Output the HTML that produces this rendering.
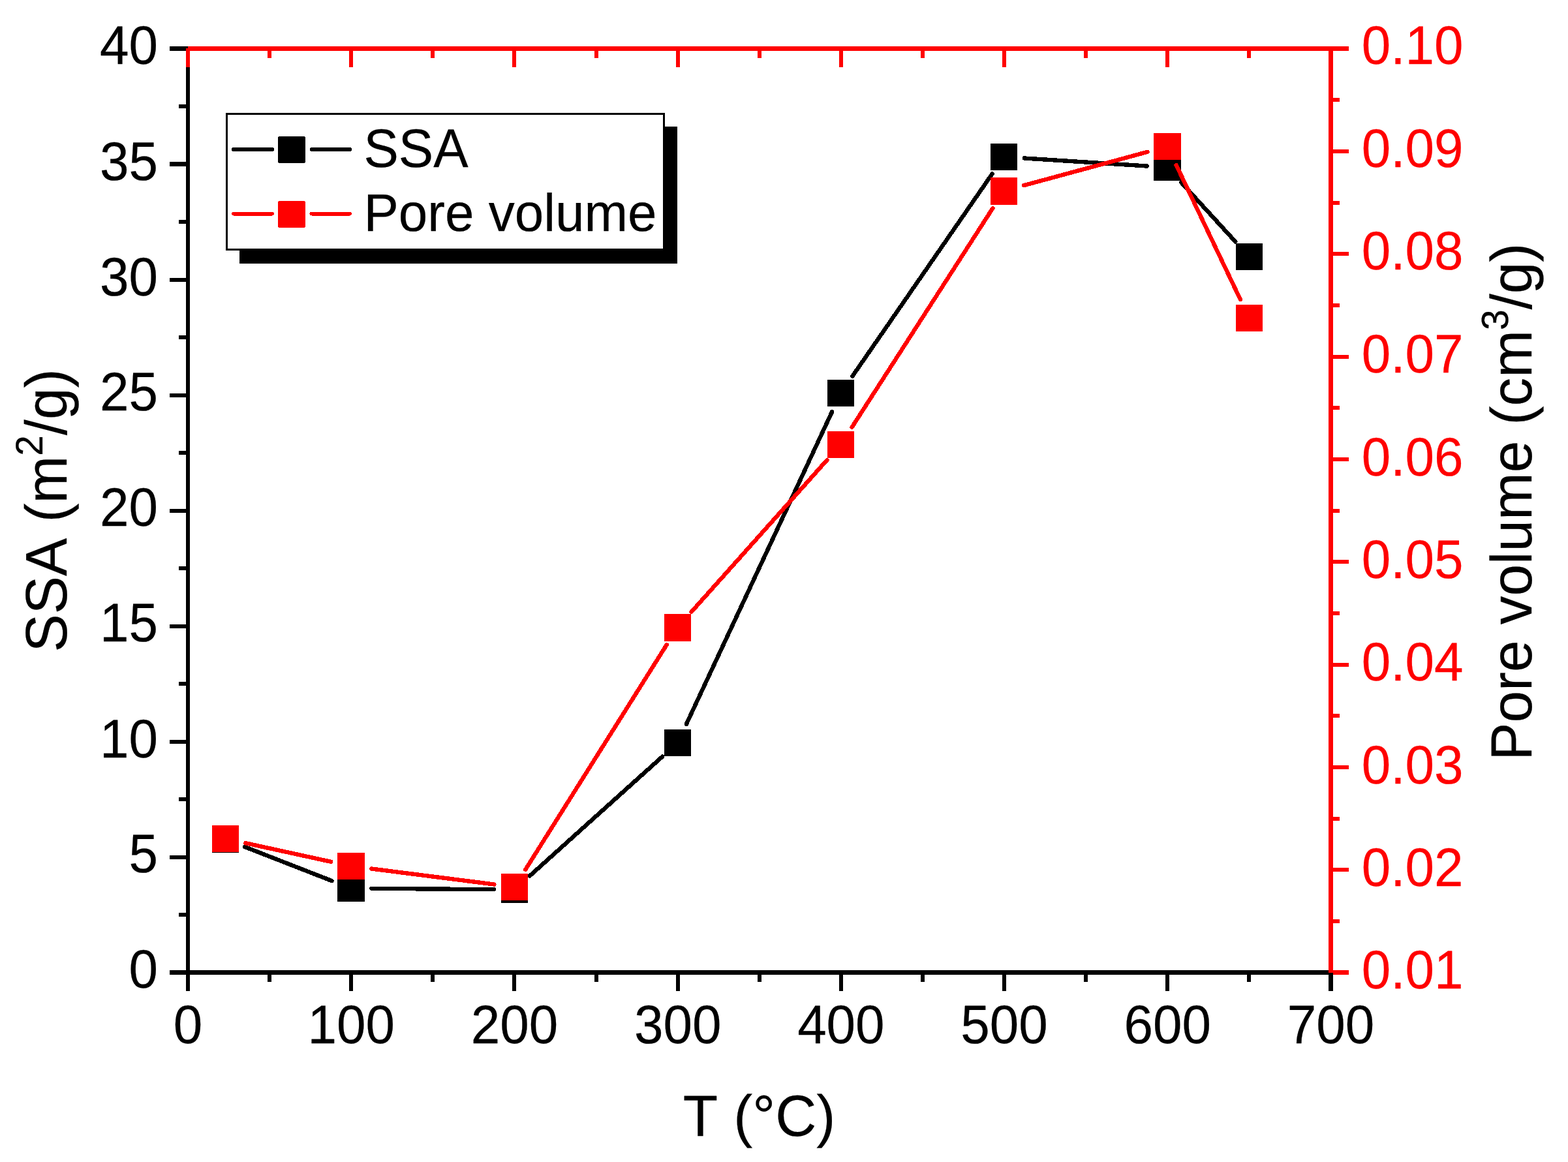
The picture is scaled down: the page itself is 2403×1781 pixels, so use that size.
<!DOCTYPE html>
<html lang="en">
<head>
<meta charset="utf-8">
<title>SSA and pore volume vs temperature</title>
<style>
html,body{margin:0;padding:0;background:#fff;width:2403px;height:1781px;}
svg{display:block;}
text{font-family:"Liberation Sans",sans-serif;font-kerning:none;font-variant-ligatures:none;text-rendering:geometricPrecision;stroke-width:0.25px;stroke-linejoin:round;}
</style>
</head>
<body>
<svg width="2403" height="1781" viewBox="0 0 2403 1781">
<rect x="0" y="0" width="2403" height="1781" fill="#fff"/>
<g shape-rendering="crispEdges">
<rect x="285" y="71" width="6" height="1423" fill="#000000"/>
<rect x="260" y="1487" width="1783" height="7" fill="#000000"/>
<rect x="260" y="1487" width="25" height="7" fill="#000000"/>
<rect x="274" y="1399" width="11" height="6" fill="#000000"/>
<rect x="260" y="1311" width="25" height="6" fill="#000000"/>
<rect x="274" y="1222" width="11" height="6" fill="#000000"/>
<rect x="260" y="1134" width="25" height="6" fill="#000000"/>
<rect x="274" y="1045" width="11" height="6" fill="#000000"/>
<rect x="260" y="957" width="25" height="6" fill="#000000"/>
<rect x="274" y="868" width="11" height="6" fill="#000000"/>
<rect x="260" y="780" width="25" height="6" fill="#000000"/>
<rect x="274" y="691" width="11" height="6" fill="#000000"/>
<rect x="260" y="603" width="25" height="6" fill="#000000"/>
<rect x="274" y="514" width="11" height="6" fill="#000000"/>
<rect x="260" y="426" width="25" height="6" fill="#000000"/>
<rect x="274" y="337" width="11" height="6" fill="#000000"/>
<rect x="260" y="248" width="25" height="7" fill="#000000"/>
<rect x="274" y="160" width="11" height="6" fill="#000000"/>
<rect x="260" y="71" width="25" height="7" fill="#000000"/>
<rect x="285" y="1494" width="6" height="25" fill="#000000"/>
<rect x="410" y="1494" width="6" height="11" fill="#000000"/>
<rect x="535" y="1494" width="6" height="25" fill="#000000"/>
<rect x="660" y="1494" width="6" height="11" fill="#000000"/>
<rect x="785" y="1494" width="6" height="25" fill="#000000"/>
<rect x="911" y="1494" width="6" height="11" fill="#000000"/>
<rect x="1036" y="1494" width="6" height="25" fill="#000000"/>
<rect x="1161" y="1494" width="6" height="11" fill="#000000"/>
<rect x="1286" y="1494" width="6" height="25" fill="#000000"/>
<rect x="1411" y="1494" width="6" height="11" fill="#000000"/>
<rect x="1536" y="1494" width="6" height="25" fill="#000000"/>
<rect x="1661" y="1494" width="6" height="11" fill="#000000"/>
<rect x="1786" y="1494" width="6" height="25" fill="#000000"/>
<rect x="1911" y="1494" width="6" height="11" fill="#000000"/>
<rect x="2036" y="1494" width="7" height="25" fill="#000000"/>
<rect x="288" y="71" width="1779" height="7" fill="#ff0000"/>
<rect x="2036" y="71" width="7" height="1420" fill="#ff0000"/>
<rect x="285" y="74" width="6" height="29" fill="#ff0000"/>
<rect x="410" y="78" width="6" height="11" fill="#ff0000"/>
<rect x="535" y="78" width="6" height="25" fill="#ff0000"/>
<rect x="660" y="78" width="6" height="11" fill="#ff0000"/>
<rect x="785" y="78" width="6" height="25" fill="#ff0000"/>
<rect x="911" y="78" width="6" height="11" fill="#ff0000"/>
<rect x="1036" y="78" width="6" height="25" fill="#ff0000"/>
<rect x="1161" y="78" width="6" height="11" fill="#ff0000"/>
<rect x="1286" y="78" width="6" height="25" fill="#ff0000"/>
<rect x="1411" y="78" width="6" height="11" fill="#ff0000"/>
<rect x="1536" y="78" width="6" height="25" fill="#ff0000"/>
<rect x="1661" y="78" width="6" height="11" fill="#ff0000"/>
<rect x="1786" y="78" width="6" height="25" fill="#ff0000"/>
<rect x="1911" y="78" width="6" height="11" fill="#ff0000"/>
<rect x="2036" y="78" width="7" height="25" fill="#ff0000"/>
<rect x="2043" y="1487" width="24" height="7" fill="#ff0000"/>
<rect x="2043" y="1409" width="10" height="6" fill="#ff0000"/>
<rect x="2043" y="1330" width="24" height="6" fill="#ff0000"/>
<rect x="2043" y="1252" width="10" height="6" fill="#ff0000"/>
<rect x="2043" y="1173" width="24" height="6" fill="#ff0000"/>
<rect x="2043" y="1094" width="10" height="6" fill="#ff0000"/>
<rect x="2043" y="1016" width="24" height="6" fill="#ff0000"/>
<rect x="2043" y="937" width="10" height="6" fill="#ff0000"/>
<rect x="2043" y="858" width="24" height="6" fill="#ff0000"/>
<rect x="2043" y="780" width="10" height="6" fill="#ff0000"/>
<rect x="2043" y="701" width="24" height="6" fill="#ff0000"/>
<rect x="2043" y="622" width="10" height="6" fill="#ff0000"/>
<rect x="2043" y="544" width="24" height="6" fill="#ff0000"/>
<rect x="2043" y="465" width="10" height="6" fill="#ff0000"/>
<rect x="2043" y="386" width="24" height="6" fill="#ff0000"/>
<rect x="2043" y="308" width="10" height="6" fill="#ff0000"/>
<rect x="2043" y="229" width="24" height="6" fill="#ff0000"/>
<rect x="2043" y="150" width="10" height="6" fill="#ff0000"/>
<rect x="2043" y="71" width="24" height="7" fill="#ff0000"/>
</g>
<g class="tk">
<text transform="translate(242 1514) scale(1 1.04)" font-size="80" fill="#000000" stroke="#000000" text-anchor="end">0</text>
<text transform="translate(242 1336.5) scale(1 1.04)" font-size="80" fill="#000000" stroke="#000000" text-anchor="end">5</text>
<text transform="translate(242 1160.8) scale(1 1.04)" font-size="80" fill="#000000" stroke="#000000" text-anchor="end">10</text>
<text transform="translate(242 982.7) scale(1 1.04)" font-size="80" fill="#000000" stroke="#000000" text-anchor="end">15</text>
<text transform="translate(242 806.4) scale(1 1.04)" font-size="80" fill="#000000" stroke="#000000" text-anchor="end">20</text>
<text transform="translate(242 628.7) scale(1 1.04)" font-size="80" fill="#000000" stroke="#000000" text-anchor="end">25</text>
<text transform="translate(242 452.8) scale(1 1.04)" font-size="80" fill="#000000" stroke="#000000" text-anchor="end">30</text>
<text transform="translate(242 275.9) scale(1 1.04)" font-size="80" fill="#000000" stroke="#000000" text-anchor="end">35</text>
<text transform="translate(242 98) scale(1 1.04)" font-size="80" fill="#000000" stroke="#000000" text-anchor="end">40</text>
<text transform="translate(288 1599) scale(1 1.04)" font-size="80" fill="#000000" stroke="#000000" text-anchor="middle">0</text>
<text transform="translate(538.214 1599) scale(1 1.04)" font-size="80" fill="#000000" stroke="#000000" text-anchor="middle">100</text>
<text transform="translate(788.429 1599) scale(1 1.04)" font-size="80" fill="#000000" stroke="#000000" text-anchor="middle">200</text>
<text transform="translate(1038.64 1599) scale(1 1.04)" font-size="80" fill="#000000" stroke="#000000" text-anchor="middle">300</text>
<text transform="translate(1288.86 1599) scale(1 1.04)" font-size="80" fill="#000000" stroke="#000000" text-anchor="middle">400</text>
<text transform="translate(1539.07 1599) scale(1 1.04)" font-size="80" fill="#000000" stroke="#000000" text-anchor="middle">500</text>
<text transform="translate(1789.29 1599) scale(1 1.04)" font-size="80" fill="#000000" stroke="#000000" text-anchor="middle">600</text>
<text transform="translate(2039.5 1599) scale(1 1.04)" font-size="80" fill="#000000" stroke="#000000" text-anchor="middle">700</text>
<text transform="translate(2086.7 1514.9) scale(1 1.04)" font-size="80" fill="#ff0000" stroke="#ff0000" text-anchor="start">0.01</text>
<text transform="translate(2086.7 1357.57) scale(1 1.04)" font-size="80" fill="#ff0000" stroke="#ff0000" text-anchor="start">0.02</text>
<text transform="translate(2086.7 1200.93) scale(1 1.04)" font-size="80" fill="#ff0000" stroke="#ff0000" text-anchor="start">0.03</text>
<text transform="translate(2086.7 1042.9) scale(1 1.04)" font-size="80" fill="#ff0000" stroke="#ff0000" text-anchor="start">0.04</text>
<text transform="translate(2086.7 885.767) scale(1 1.04)" font-size="80" fill="#ff0000" stroke="#ff0000" text-anchor="start">0.05</text>
<text transform="translate(2086.7 729.333) scale(1 1.04)" font-size="80" fill="#ff0000" stroke="#ff0000" text-anchor="start">0.06</text>
<text transform="translate(2086.7 571.25) scale(1 1.04)" font-size="80" fill="#ff0000" stroke="#ff0000" text-anchor="start">0.07</text>
<text transform="translate(2086.7 412.867) scale(1 1.04)" font-size="80" fill="#ff0000" stroke="#ff0000" text-anchor="start">0.08</text>
<text transform="translate(2086.7 255.833) scale(1 1.04)" font-size="80" fill="#ff0000" stroke="#ff0000" text-anchor="start">0.09</text>
<text transform="translate(2086.7 97.8) scale(1 1.04)" font-size="80" fill="#ff0000" stroke="#ff0000" text-anchor="start">0.10</text>
</g>
<g class="tt">
<text transform="translate(102 782.4) rotate(-90) scale(1 1.03)" font-size="87.3" fill="#000000" stroke="#000000" text-anchor="middle">SSA (m<tspan font-size="56.745" dy="-35.793">2</tspan><tspan dy="35.793">/g)</tspan></text>
<text transform="translate(2347 769.2) rotate(-90) scale(1 1.02)" font-size="87.3" fill="#000000" stroke="#000000" text-anchor="middle">Pore volume (cm<tspan font-size="56.745" dy="-35.793">3</tspan><tspan dy="35.793">/g)</tspan></text>
<text transform="translate(1163.5 1741) scale(1 1.02)" font-size="87.3" fill="#000000" stroke="#000000" text-anchor="middle">T (°C)</text>
</g>
<g shape-rendering="crispEdges">
<rect x="367" y="194" width="671" height="210" fill="#000000"/>
<rect x="347.5" y="174.5" width="670" height="208" fill="#fff" stroke="#000" stroke-width="3"/>
</g>
<g stroke="#000000" stroke-width="6" stroke-linecap="round" fill="none" shape-rendering="crispEdges"><path d="M358 229H417M477.5 229H536"/></g>
<rect x="426" y="209" width="42" height="41" fill="#000000" rx="2.5" shape-rendering="crispEdges"/>
<text transform="translate(557.5 255.5) scale(1 1.04)" font-size="80" fill="#000000" stroke="#000000" text-anchor="start">SSA</text>
<g stroke="#ff0000" stroke-width="6" stroke-linecap="round" fill="none" shape-rendering="crispEdges"><path d="M358 327.5H417M477.5 327.5H536"/></g>
<rect x="426" y="308" width="42" height="41" fill="#ff0000" rx="2.5" shape-rendering="crispEdges"/>
<text transform="translate(557.5 354) scale(1 1.015)" font-size="80" fill="#000000" stroke="#000000" text-anchor="start">Pore volume</text>
<path d="M374.9 1297.9L508.6 1350.1M569.5 1361.8L757.0 1363.2M811.9 1342.4L1015.1 1159.6M1051.8 1110.0L1275.2 631.0M1306.4 576.6L1520.6 266.4M1569.9 242.5L1757.6 254.5M1810.3 279.7L1893.2 370.3" stroke="#000000" stroke-width="6.4" stroke-linecap="round" fill="none" shape-rendering="crispEdges"/>
<rect x="325" y="1266" width="41" height="41" fill="#000000" rx="1.5" shape-rendering="crispEdges"/>
<rect x="517" y="1341" width="42" height="41" fill="#000000" rx="1.5" shape-rendering="crispEdges"/>
<rect x="768" y="1343" width="41" height="41" fill="#000000" rx="1.5" shape-rendering="crispEdges"/>
<rect x="1018" y="1118" width="41" height="41" fill="#000000" rx="1.5" shape-rendering="crispEdges"/>
<rect x="1268" y="582" width="41" height="41" fill="#000000" rx="1.5" shape-rendering="crispEdges"/>
<rect x="1518" y="220" width="41" height="41" fill="#000000" rx="1.5" shape-rendering="crispEdges"/>
<rect x="1768" y="236" width="42" height="41" fill="#000000" rx="1.5" shape-rendering="crispEdges"/>
<rect x="1894" y="373" width="41" height="41" fill="#000000" rx="1.5" shape-rendering="crispEdges"/>
<path d="M376.3 1292.2L507.2 1320.8M569.2 1331.5L757.3 1355.5M805.3 1332.8L1021.7 988.2M1059.5 938.0L1267.5 705.0M1305.5 655.0L1521.5 319.0M1568.9 284.2L1758.6 232.8M1802.6 252.9L1900.9 459.1" stroke="#ff0000" stroke-width="6.4" stroke-linecap="round" fill="none" shape-rendering="crispEdges"/>
<rect x="325" y="1265" width="41" height="41" fill="#ff0000" rx="1.5" shape-rendering="crispEdges"/>
<rect x="517" y="1307" width="42" height="41" fill="#ff0000" rx="1.5" shape-rendering="crispEdges"/>
<rect x="768" y="1339" width="41" height="41" fill="#ff0000" rx="1.5" shape-rendering="crispEdges"/>
<rect x="1018" y="941" width="41" height="42" fill="#ff0000" rx="1.5" shape-rendering="crispEdges"/>
<rect x="1268" y="661" width="41" height="41" fill="#ff0000" rx="1.5" shape-rendering="crispEdges"/>
<rect x="1518" y="272" width="41" height="42" fill="#ff0000" rx="1.5" shape-rendering="crispEdges"/>
<rect x="1768" y="204" width="42" height="41" fill="#ff0000" rx="1.5" shape-rendering="crispEdges"/>
<rect x="1894" y="467" width="41" height="41" fill="#ff0000" rx="1.5" shape-rendering="crispEdges"/>
</svg>
</body>
</html>
